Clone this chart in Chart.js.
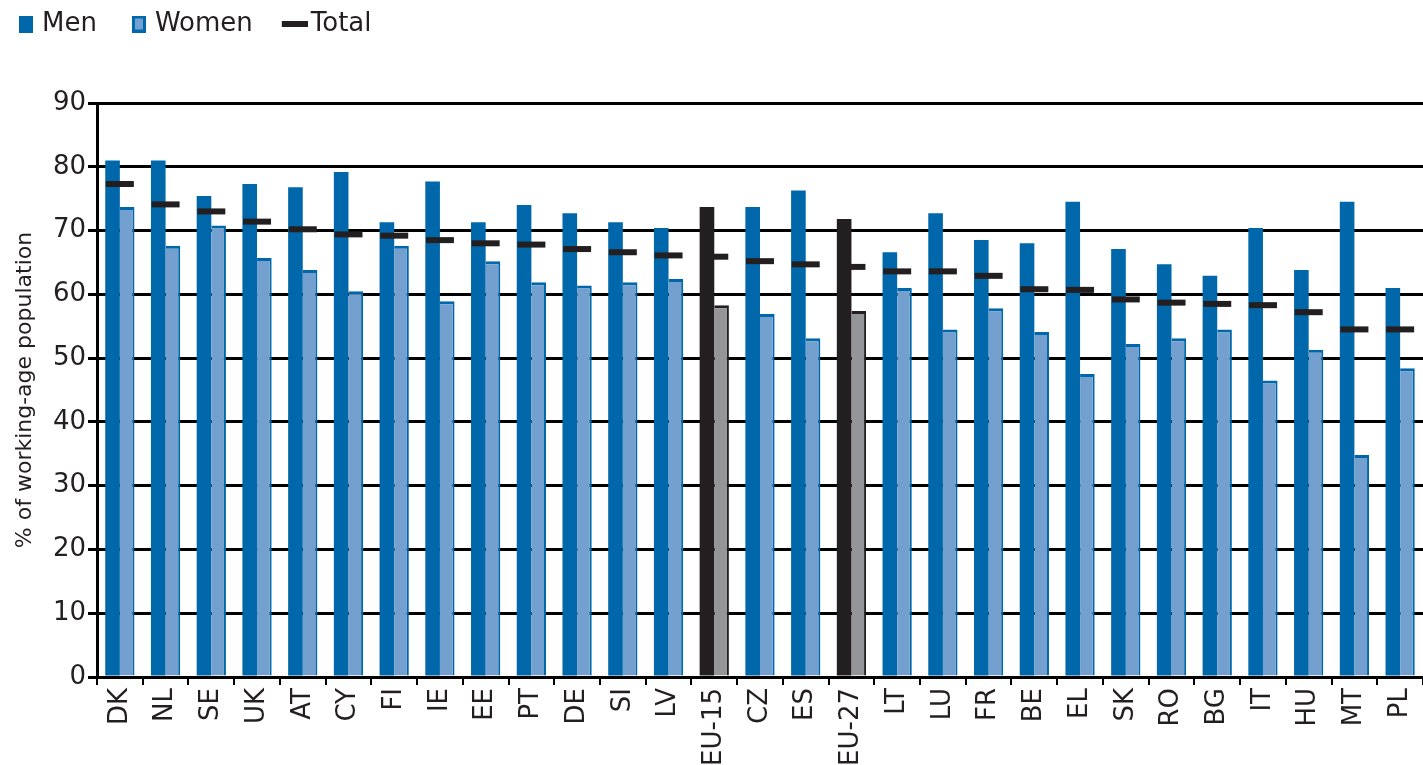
<!DOCTYPE html>
<html>
<head>
<meta charset="utf-8">
<script src="https://cdn.jsdelivr.net/npm/chart.js@4"></script>
<style>
  html, body { margin: 0; padding: 0; background: #ffffff; }
  #wrap { width: 1423px; height: 765px; }
</style>
</head>
<body>
<div id="wrap"><canvas id="c" width="1423" height="765"></canvas></div>
<script>
const categories = ['DK','NL','SE','UK','AT','CY','FI','IE','EE','PT','DE','SI','LV','EU-15','CZ','ES','EU-27','LT','LU','FR','BE','EL','SK','RO','BG','IT','HU','MT','PL'];
const menValues = [81.0, 81.0, 75.4, 77.3, 76.8, 79.2, 71.3, 77.7, 71.3, 74.0, 72.7, 71.3, 70.4, 73.7, 73.7, 76.3, 71.8, 66.6, 72.7, 68.5, 68.0, 74.5, 67.1, 64.7, 62.9, 70.4, 63.8, 74.5, 61.0];
const womenValues = [73.7, 67.6, 70.8, 65.7, 63.8, 60.5, 67.6, 58.9, 65.2, 61.9, 61.4, 61.9, 62.4, 58.3, 56.9, 53.1, 57.4, 61.0, 54.5, 57.8, 54.1, 47.5, 52.2, 53.1, 54.5, 46.5, 51.3, 34.8, 48.4];
const totalValues = [77.3, 74.1, 73.0, 71.4, 70.2, 69.4, 69.2, 68.5, 68.0, 67.8, 67.1, 66.6, 66.1, 65.9, 65.2, 64.7, 64.3, 63.6, 63.6, 62.9, 60.8, 60.7, 59.2, 58.7, 58.5, 58.3, 57.2, 54.5, 54.5];
const aggregateCategories = ['EU-15','EU-27'];
const seriesNames = ['Men','Women','Total'];
const yTitle = '% of working-age population';

const FONT = 'DejaVu Sans';
const TEXT = '#231F20';
const BLUE = '#0068AA';
const LIGHT = '#73A0CF';
const BLACK = '#231F20';
const GREY = '#939598';

const isAgg = c => aggregateCategories.includes(c);

function sym(w, h, draw) {
  const cv = document.createElement('canvas');
  cv.width = w; cv.height = h;
  draw(cv.getContext('2d'));
  return cv;
}
const symMen = sym(22, 17, g => { g.fillStyle = BLUE; g.fillRect(8, 0, 14, 17); });
const symWomen = sym(22, 17, g => { g.fillStyle = BLUE; g.fillRect(8, 0, 14, 17); g.fillStyle = LIGHT; g.fillRect(11, 3, 8, 11); });
const symTotal = sym(34, 6, g => { g.fillStyle = BLACK; g.fillRect(8, 0, 26, 6); });

const legendHeight = {
  id: 'legendHeight',
  beforeInit(chart) {
    const lg = chart.legend;
    if (lg && !lg._patched) {
      const orig = lg.fit;
      lg.fit = function () { orig.call(this); this.height = 123; };
      lg._patched = true;
    }
  }
};

new Chart(document.getElementById('c'), {
  type: 'bar',
  data: {
    labels: categories,
    datasets: [
      {
        label: seriesNames[0],
        data: menValues,
        backgroundColor: categories.map(c => isAgg(c) ? BLACK : BLUE),
        borderWidth: 0,
        categoryPercentage: 0.64,
        barPercentage: 1.0,
        order: 2
      },
      {
        label: seriesNames[1],
        data: womenValues,
        backgroundColor: categories.map(c => isAgg(c) ? GREY : LIGHT),
        borderColor: categories.map(c => isAgg(c) ? BLACK : BLUE),
        borderWidth: { top: 3, right: 2, left: 0, bottom: 0 },
        borderSkipped: 'start',
        categoryPercentage: 0.64,
        barPercentage: 1.0,
        order: 2
      },
      {
        type: 'line',
        label: seriesNames[2],
        data: totalValues,
        showLine: false,
        pointStyle: 'line',
        pointRadius: 14,
        pointHoverRadius: 14,
        borderColor: BLACK,
        backgroundColor: BLACK,
        borderWidth: 6,
        pointBorderWidth: 6,
        order: 0
      }
    ]
  },
  options: {
    responsive: false,
    animation: false,
    devicePixelRatio: 1,
    layout: { autoPadding: false, padding: { left: -16, top: -20, right: 0, bottom: 0 } },
    plugins: {
      tooltip: { enabled: false },
      legend: {
        display: true,
        position: 'top',
        align: 'start',
        labels: {
          usePointStyle: true,
          pointStyleWidth: 14,
          padding: 31,
          color: TEXT,
          font: { family: FONT, size: 26 },
          generateLabels: () => [
            { text: seriesNames[0], pointStyle: symMen, fillStyle: BLUE, strokeStyle: BLUE, lineWidth: 0, hidden: false, datasetIndex: 0, fontColor: TEXT },
            { text: seriesNames[1], pointStyle: symWomen, fillStyle: LIGHT, strokeStyle: BLUE, lineWidth: 0, hidden: false, datasetIndex: 1, fontColor: TEXT },
            { text: seriesNames[2], pointStyle: symTotal, fillStyle: BLACK, strokeStyle: BLACK, lineWidth: 0, hidden: false, datasetIndex: 2, fontColor: TEXT }
          ]
        }
      }
    },
    scales: {
      x: {
        offset: true,
        grid: { display: true, drawOnChartArea: false, drawTicks: true, tickLength: 8, color: '#000', lineWidth: 2, offset: true },
        border: { display: true, color: '#000', width: 3, z: 1 },
        ticks: {
          color: TEXT,
          font: { family: FONT, size: 26 },
          minRotation: 90,
          maxRotation: 90,
          autoSkip: false,
          padding: 3
        },
        afterFit(s) { s.height = 88; s.paddingLeft = 0; s.paddingRight = 0; }
      },
      y: {
        min: 0,
        max: 90,
        ticks: {
          stepSize: 10,
          color: TEXT,
          font: { family: FONT, size: 26 },
          padding: 2
        },
        grid: { color: '#000', lineWidth: 3, tickLength: 9, drawTicks: true },
        border: { display: true, color: '#000', width: 3 },
        title: {
          display: true,
          text: yTitle,
          color: TEXT,
          font: { family: FONT, size: 22 },
          padding: { top: 28, bottom: 0 }
        },
        afterFit(s) { s.width = 113; }
      }
    }
  },
  plugins: [legendHeight]
});
</script>
</body>
</html>
